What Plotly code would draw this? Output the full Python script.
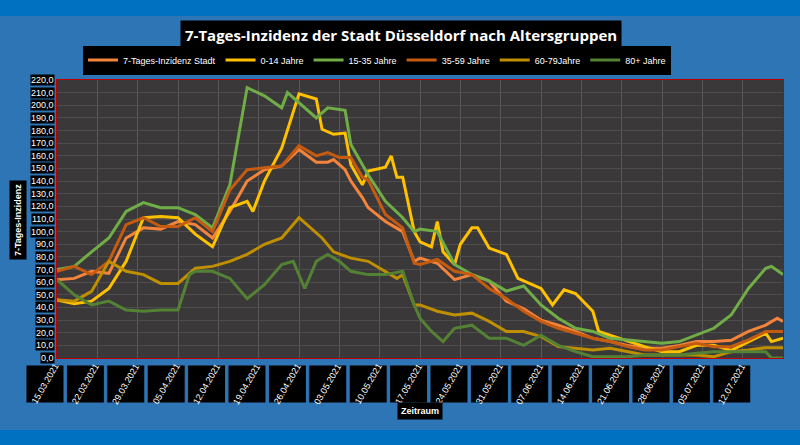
import plotly.graph_objects as go
import pandas as pd

start = pd.Timestamp("2021-03-15")
week_labels = [(start + pd.Timedelta(days=7*i)).strftime("%d.%m.%Y") for i in range(18)]
y_ticks = list(range(0, 221, 10))

stadt_d = [0,3,6,9,12,15,18,21,24,27,30,33,36,39,42,44,45,47,48,50,51,53,54,57,60,62,63,66,69,72,75,78,81,84,87,90,93,96,99,102,105,108,111,114,117,120,123,125,126]
stadt_v = [62,63,68.6,67,95,103,102,108,105.6,95,116,140,149,152,165,158,155,155,157,149,140,127,119,108,100,76.5,79,75,62,66,61,45,39,30,26,21,15.6,13,10,7.7,7.7,10,13,13,14,21,26,31.5,29]

j014_d = [0,3,6,9,12,15,18,21,24,27,30,33,34,36,39,42,45,46,48,50,51,53,54,57,58,59,60,62,63,65,66,67,69,70,72,73,75,78,80,84,86,88,90,93,94,96,99,102,105,108,111,114,117,120,123,124,126]
j014_v = [46,43,45,55,76.5,111,112,111,98,88,119,124,116,140,166,209,205,181,177,178,153,137,148,151,160,143,143,100,92,88,108,84,74,90,103,103,87,82,63,55,42,54,51,37,21,18,13,9,5,5,10,10,6,13,19.6,13,15.6]

j1535_d = [0,3,6,9,12,15,18,21,24,27,30,33,36,39,40,42,45,47,50,51,54,57,60,62,63,66,69,72,75,78,81,84,87,90,93,96,99,102,105,108,111,114,117,120,123,124,126]
j1535_v = [70,72.5,84,95,116,123,119,119,113.5,103,137,214,207.5,198,210,202,190,198,196,169,145,124,111,100,102,100,74,66,61,53,57,42,31.5,23.5,21,15.6,14.3,13,11.6,13,18,23.5,34,55,71,72.5,66]

j3559_d = [0,3,6,9,12,15,18,21,24,27,30,33,36,39,42,45,47,49,51,53,54,57,60,62,63,66,69,72,75,78,81,84,87,90,93,96,99,102,105,108,111,114,117,120,123,126]
j3559_v = [68.6,72.5,66,76.5,105.6,111,104,104,111,100,133,149,150.6,152,168,160,162.6,158.6,158.6,143,141,113.6,103,75,74,78,68.6,66,55,47,37,29,23.5,19.6,15.6,13,9,6.4,6.4,9,11.6,9,9,14.3,21,21]

j6079_d = [0,3,6,9,12,15,18,21,24,27,30,33,36,39,42,44,46,48,51,54,57,59,60,62,63,66,69,72,75,78,81,84,87,90,93,96,99,102,105,108,111,114,117,120,123,126]
j6079_v = [46,45,52.7,76.5,68.6,66,59,59,71,72.5,76.5,82,90,95,111,103,95,84,79,76.5,68.6,63,66,42,42,37,34,35.5,29,21,21,17,9,7.7,6.4,7.7,5,2.4,2.4,2.4,2.4,1,5,6.4,8.2,8.2]

j80_d = [0,3,6,9,12,15,18,21,23,24,27,30,33,36,39,41,43,45,47,49,51,54,57,60,62,63,65,67,69,72,75,78,81,84,87,90,93,96,99,102,105,108,111,114,117,120,123,124,126]
j80_v = [62,50,42,45,38,37,38,38,66,68.6,68.6,63,47,58,74,76.5,55,76.5,82,76.5,68.6,66,66,68.6,42,31.5,21,13,23.5,26,15.6,15.6,10,18,10,5,1,1,1,2.4,2.4,2.4,3.7,5,5,5,5,0,0]

series = [
    ("7-Tages-Inzidenz Stadt", stadt_d, stadt_v, "#F4843C"),
    ("0-14 Jahre", j014_d, j014_v, "#FFC000"),
    ("15-35 Jahre", j1535_d, j1535_v, "#70AD47"),
    ("35-59 Jahre", j3559_d, j3559_v, "#C55A11"),
    ("60-79Jahre", j6079_d, j6079_v, "#BF8F00"),
    ("80+ Jahre", j80_d, j80_v, "#548235"),
]

fig = go.Figure()
for name, d, v, c in series:
    fig.add_trace(go.Scatter(x=d, y=v, name=name, mode="lines",
                             line=dict(color=c, width=3)))

W = 726.0
H = 278.0
def px(p):
    return (p - 57) / W
def py(p):
    return (358 - p) / H

FONT = "Liberation Sans Narrow, Liberation Sans"
annotations = []
shapes = []
for t in y_ticks:
    annotations.append(dict(x=px(55), xref="paper", y=t, yref="y", xanchor="right", yanchor="middle",
                            text=f"{t},0", showarrow=False, bgcolor="black",
                            font=dict(color="white", size=9, family=FONT), borderpad=0))
for i, lab in enumerate(week_labels):
    x0 = 26 + 40.4 * i
    shapes.append(dict(type="rect", xref="paper", yref="paper", x0=px(x0), x1=px(x0 + 38),
                       y0=py(403), y1=py(365), fillcolor="black",
                       line=dict(color="#2E75B6", width=1), layer="above"))
    annotations.append(dict(x=px(x0 + 19), xref="paper", y=py(384), yref="paper", text=lab,
                            xanchor="center", yanchor="middle",
                            textangle=-60, showarrow=False,
                            font=dict(color="white", size=9, family=FONT)))
annotations.append(dict(x=px(401), xref="paper", y=py(35), yref="paper", xanchor="center", yanchor="middle",
                        text="<b>7-Tages-Inzidenz der Stadt Düsseldorf nach Altersgruppen</b>",
                        showarrow=False, bgcolor="black", borderpad=4,
                        font=dict(color="white", size=15, family="Open Sans")))
annotations.append(dict(x=px(420), xref="paper", y=py(411), yref="paper", text="<b>Zeitraum</b>",
                        xanchor="center", yanchor="middle",
                        showarrow=False, bgcolor="black", borderpad=3,
                        font=dict(color="white", size=9, family=FONT)))
annotations.append(dict(x=px(18), xref="paper", y=py(220), yref="paper", text="<b>7-Tages-Inzidenz</b>",
                        xanchor="center", yanchor="middle",
                        textangle=-90, showarrow=False, bgcolor="black", borderpad=3,
                        font=dict(color="white", size=9, family=FONT)))
shapes.append(dict(type="rect", xref="paper", yref="paper", x0=px(-10), x1=px(810),
                   y0=py(16), y1=py(-10), fillcolor="#0070C0", line_width=0, layer="below"))
shapes.append(dict(type="rect", xref="paper", yref="paper", x0=px(-10), x1=px(810),
                   y0=py(455), y1=py(430), fillcolor="#0070C0", line_width=0, layer="below"))

fig.update_layout(
    width=800, height=445,
    margin=dict(l=57, r=17, t=80, b=87, autoexpand=False),
    paper_bgcolor="#2E75B6", plot_bgcolor="#3A3838",
    annotations=annotations, shapes=shapes,
    showlegend=True,
    legend=dict(orientation="h", x=px(377), xanchor="center", y=py(60), yanchor="middle",
                bgcolor="black", font=dict(color="white", size=9, family=FONT),
                itemwidth=30),
    xaxis=dict(range=[0, 126], tickvals=[7*i for i in range(19)], showticklabels=False,
               gridcolor="#5A5858", zeroline=False, showline=True, linecolor="#C00000",
               mirror=True, linewidth=1),
    yaxis=dict(range=[0, 220], tickvals=y_ticks, showticklabels=False,
               gridcolor="#4E4C4C", zeroline=False, showline=True, linecolor="#C00000",
               mirror=True, linewidth=1),
)
fig.write_html("out.html", config={"displayModeBar": False},
               post_script="document.body.style.margin='0';")
